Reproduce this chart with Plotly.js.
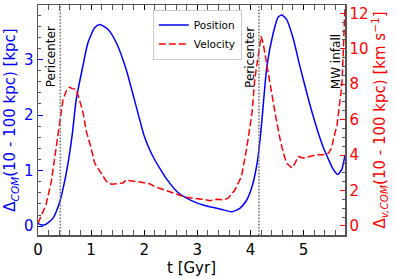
<!DOCTYPE html>
<html>
<head>
<meta charset="utf-8">
<script src="https://cdn.plot.ly/plotly-3.0.1.min.js"></script>
<style>html,body{margin:0;padding:0;background:#fff;}#chart{width:396px;height:278px;}</style>
</head>
<body>
<div id="chart"></div>
<script>
const tPos = [0, 0.07, 0.14, 0.28, 0.41, 0.5, 0.58, 0.645, 0.72, 0.845, 0.94, 1.066, 1.16, 1.32, 1.475, 1.66, 1.85, 2.0, 2.1, 2.2, 2.3, 2.42, 2.64, 2.89, 3.14, 3.46, 3.65, 3.80, 3.93, 4.02, 4.12, 4.18, 4.22, 4.31, 4.43, 4.52, 4.59, 4.68, 4.81, 4.93, 5.06, 5.15, 5.25, 5.31, 5.37, 5.47, 5.56, 5.64, 5.72, 5.78];
const position = [0.05, 0.02, 0.03, 0.14, 0.44, 0.80, 1.22, 1.65, 2.28, 2.88, 3.30, 3.57, 3.63, 3.54, 3.30, 2.82, 2.15, 1.62, 1.38, 1.19, 1.03, 0.85, 0.60, 0.46, 0.37, 0.30, 0.26, 0.32, 0.47, 0.68, 1.10, 1.55, 1.95, 2.88, 3.48, 3.76, 3.80, 3.72, 3.36, 2.88, 2.40, 2.08, 1.76, 1.58, 1.42, 1.20, 1.02, 0.93, 1.02, 1.28];
const tVel = [0, 0.15, 0.25, 0.34, 0.41, 0.47, 0.53, 0.59, 0.65, 0.72, 0.78, 0.85, 0.91, 1.0, 1.066, 1.19, 1.29, 1.38, 1.51, 1.60, 1.66, 1.73, 1.85, 1.98, 2.10, 2.20, 2.32, 2.45, 2.58, 2.70, 2.83, 2.95, 3.08, 3.24, 3.36, 3.49, 3.58, 3.71, 3.83, 3.93, 3.99, 4.03, 4.08, 4.15, 4.20, 4.24, 4.27, 4.34, 4.40, 4.48, 4.56, 4.62, 4.68, 4.78, 4.84, 4.90, 5.0, 5.12, 5.25, 5.37, 5.47, 5.53, 5.56, 5.63, 5.69, 5.72, 5.75, 5.78];
const velocity = [0.15, 1.19, 2.5, 4.4, 5.9, 7.1, 7.6, 7.83, 7.75, 7.70, 7.13, 6.38, 5.34, 4.4, 3.55, 2.98, 2.51, 2.36, 2.38, 2.42, 2.60, 2.55, 2.51, 2.42, 2.38, 2.22, 2.09, 1.98, 1.85, 1.70, 1.60, 1.57, 1.51, 1.43, 1.51, 1.47, 1.57, 2.04, 2.79, 4.4, 5.5, 6.4, 8.26, 9.77, 10.7, 10.3, 9.77, 8.45, 7.32, 6.1, 4.87, 4.11, 3.55, 3.27, 3.55, 3.92, 3.83, 3.92, 4.02, 4.02, 4.11, 4.40, 4.87, 5.7, 7.13, 7.9, 10, 12.4];
const pericenters = [0.42, 4.16];
const mwInfall = 5.78;

const font = 'DejaVu Sans, sans-serif';
const traces = [
  {x: tPos, y: position, name: 'Position', type: 'scatter', mode: 'lines',
   line: {color: '#0000ff', width: 1.5, shape: 'spline', smoothing: 0.6}, yaxis: 'y'},
  {x: tVel, y: velocity, name: 'Velocity', type: 'scatter', mode: 'lines',
   line: {color: '#ff0000', width: 1.5, dash: '7px,3px'}, yaxis: 'y2'}
];
const shapes = pericenters.map(p => ({type: 'line', xref: 'x', yref: 'paper', x0: p, x1: p, y0: 0, y1: 1,
  line: {color: '#777', width: 1.6, dash: '1.6px,1.6px'}}));
const annotations = [
  ...pericenters.map(p => ({x: p, y: 2.46, xref: 'x', yref: 'y', text: 'Pericenter', showarrow: false,
    textangle: -90, xanchor: 'right', yanchor: 'bottom', font: {family: font, size: 12, color: '#000'}})),
  {x: mwInfall, y: 2.42, xref: 'x', yref: 'y', text: 'MW infall', showarrow: false,
    textangle: -90, xanchor: 'right', yanchor: 'bottom', font: {family: font, size: 12, color: '#000'}}
];
const layout = {
  width: 396, height: 278,
  margin: {l: 38, r: 51, t: 5, b: 43},
  paper_bgcolor: '#fff', plot_bgcolor: '#fff',
  font: {family: font, size: 15, color: '#000'},
  showlegend: true,
  legend: {x: 0.374, y: 0.98, xanchor: 'left', yanchor: 'top', bgcolor: '#fff', bordercolor: '#ccc', borderwidth: 1,
    font: {family: font, size: 10.5}, tracegroupgap: 0, itemwidth: 30},
  xaxis: {range: [0, 5.78], dtick: 1, ticks: 'inside', ticklen: 5, tickcolor: '#000', showgrid: false, zeroline: false,
    showline: true, linecolor: '#555', linewidth: 1.5, mirror: 'allticks',
    minor: {dtick: 0.2, ticks: 'inside', ticklen: 3, tickcolor: '#555'},
    tickfont: {size: 15, color: '#000'},
    title: {text: 't [Gyr]', font: {size: 15, color: '#000'}, standoff: 4}},
  yaxis: {range: [-0.16, 3.98], dtick: 1, ticks: 'inside', ticklen: 5, tickcolor: '#0000ff', showgrid: false, zeroline: false,
    showline: true, linecolor: '#555', linewidth: 1.5,
    minor: {dtick: 0.2, ticks: 'inside', ticklen: 3, tickcolor: '#555'},
    tickfont: {size: 15, color: '#0000ff'},
    title: {text: 'Δ<sub><i>COM</i></sub>(10 - 100 kpc) [kpc]', font: {size: 15, color: '#0000ff'}, standoff: 4}},
  yaxis2: {range: [-0.51, 12.47], dtick: 2, overlaying: 'y', side: 'right', ticks: 'inside', ticklen: 5, tickcolor: '#ff0000',
    showgrid: false, zeroline: false, showline: true, linecolor: '#555', linewidth: 1.5,
    minor: {dtick: 0.5, ticks: 'inside', ticklen: 3, tickcolor: '#555'},
    tickfont: {size: 15, color: '#ff0000'},
    title: {text: 'Δ<sub><i>v,COM</i></sub>(10 - 100 kpc) [km s<sup>−1</sup>]', font: {size: 15, color: '#ff0000'}, standoff: 4}},
  shapes: shapes,
  annotations: annotations
};
Plotly.newPlot('chart', traces, layout, {displayModeBar: false, staticPlot: true});
</script>
</body>
</html>
